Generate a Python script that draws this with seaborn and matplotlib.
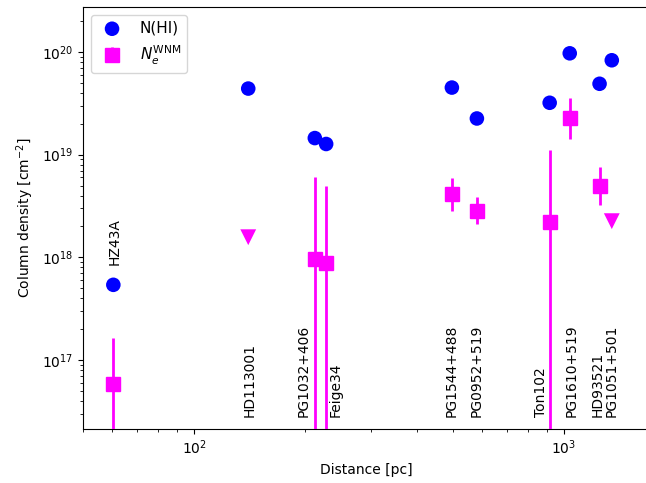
import numpy as np
import pandas as pd
import matplotlib
matplotlib.use("Agg")
import matplotlib.pyplot as plt
import matplotlib.transforms as mtransforms
import seaborn as sns

names = ["HZ43A", "HD113001", "PG1032+406", "Feige34", "PG1544+488",
         "PG0952+519", "Ton102", "PG1610+519", "HD93521", "PG1051+501"]
distance = [60.4, 140, 212, 227.5, 498, 582, 916, 1038, 1250, 1349]
n_hi = [5.4e17, 4.4e19, 1.45e19, 1.27e19, 4.5e19, 2.25e19, 3.2e19, 9.7e19, 4.9e19, 8.3e19]

# WNM electron column densities (measured)
ne_dist = [60.4, 212, 227.5, 498, 582, 916, 1038, 1250]
ne_val = [5.8e16, 9.6e17, 8.8e17, 4.1e18, 2.85e18, 2.2e18, 2.25e19, 5.0e18]
ne_hi = [1.65e17, 6.1e18, 5.0e18, 5.9e18, 3.85e18, 1.12e19, 3.6e19, 7.6e18]
ne_lo = [1.0e15, 1.0e15, 1.0e15, 2.8e18, 2.1e18, 1.0e15, 1.42e19, 3.2e18]

# upper limits
ul_dist = [140, 1349]
ul_val = [1.57e18, 2.25e18]

label_y = [8.5e17, 2.8e16, 2.8e16, 2.8e16, 2.8e16, 2.8e16, 2.8e16, 2.8e16, 2.8e16, 2.8e16]
label_dx = [1, 1, -8, 6.5, 0, 0, -6, 1, -1.5, 0]  # points

fig = plt.figure(figsize=(6.46, 4.83), dpi=100)
ax = fig.add_axes([0.1285, 0.1118, 0.876, 0.8737])

df_hi = pd.DataFrame({"d": distance, "n": n_hi})
sns.scatterplot(data=df_hi, x="d", y="n", ax=ax, color="blue", marker="o",
                s=110, edgecolor="none", label="N(HI)", zorder=3)

ne = np.array(ne_val)
yerr = [ne - np.array(ne_lo), np.array(ne_hi) - ne]
ax.errorbar(ne_dist, ne_val, yerr=yerr, fmt="s", color="magenta", ms=10,
            elinewidth=2, capsize=0, label=r"$N_e^{\rm WNM}$", zorder=3)

df_ul = pd.DataFrame({"d": ul_dist, "n": ul_val})
sns.scatterplot(data=df_ul, x="d", y="n", ax=ax, color="magenta", marker="v",
                s=130, edgecolor="none", zorder=3)

for nm, d, yl, dx in zip(names, distance, label_y, label_dx):
    tr = ax.transData + mtransforms.ScaledTranslation(dx / 72, 0, fig.dpi_scale_trans)
    ax.text(d, yl, nm, rotation=90, ha="center", va="bottom", fontsize=10,
            transform=tr)

ax.set_xscale("log")
ax.set_yscale("log")
ax.set_xlim(50, 1700)
ax.set_ylim(2.13e16, 2.74e20)
ax.set_xlabel("Distance [pc]")
ax.set_ylabel(r"Column density [cm$^{-2}$]")

handles, labels = ax.get_legend_handles_labels()
ax.legend(handles[:2], labels[:2], loc="upper left", fontsize=11)

fig.savefig("out.png", dpi=100)
